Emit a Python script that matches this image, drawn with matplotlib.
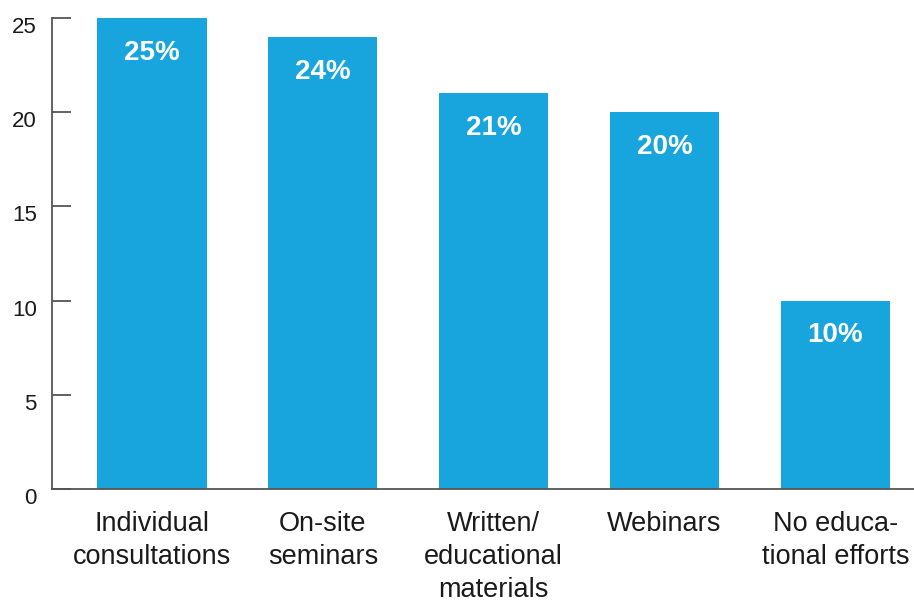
import matplotlib.pyplot as plt
import matplotlib.transforms as mtransforms

# ---------------------------------------------------
# Data
# ---------------------------------------------------

categories = [
    "Individual\nconsultations",
    "On-site\nseminars",
    "Written/\neducational\nmaterials",
    "Webinars",
    "No educa-\ntional efforts",
]
values = [25, 24, 21, 20, 10]
value_labels = ["25%", "24%", "21%", "20%", "10%"]
yticks = [0, 5, 10, 15, 20, 25]

BAR_COLOR = "#18A5DD"
AXIS_COLOR = "#555555"

plt.rcParams["font.family"] = ["Liberation Sans", "DejaVu Sans"]

# ---------------------------------------------------
# Plot
# ---------------------------------------------------

fig = plt.figure(figsize=(9.14, 6.0), dpi=100)
ax = fig.add_axes([52 / 914, 1 - 489 / 600, 1 - 52 / 914, (489 - 18) / 600])

x = list(range(len(categories)))
bars = ax.bar(x, values, width=0.64, color=BAR_COLOR, zorder=2)

for rect, lab in zip(bars, value_labels):
    ax.annotate(
        lab,
        xy=(rect.get_x() + rect.get_width() / 2, rect.get_height()),
        xytext=(0, -25),
        textcoords="offset points",
        ha="center",
        va="center",
        color="white",
        fontsize=20,
        fontweight="bold",
    )

ax.set_xlim(-0.585, 4.46)
ax.set_ylim(0, 25)

ax.set_xticks(x)
ax.set_xticklabels(categories, fontsize=19.5, color="#1a1a1a", linespacing=1.35)
ax.set_yticks(yticks)
ax.set_yticklabels([str(v) for v in yticks], fontsize=16, color="#1a1a1a")

ax.tick_params(axis="x", length=0, pad=16)
ax.tick_params(axis="y", direction="in", length=14, width=1.3,
               color=AXIS_COLOR, pad=11)

offset = mtransforms.ScaledTranslation(0, -0.07, fig.dpi_scale_trans)
for lbl in ax.get_yticklabels():
    lbl.set_transform(lbl.get_transform() + offset)

for side in ["top", "right"]:
    ax.spines[side].set_visible(False)
for side in ["left", "bottom"]:
    ax.spines[side].set_color(AXIS_COLOR)
    ax.spines[side].set_linewidth(1.3)

fig.savefig("out.png", dpi=100)
